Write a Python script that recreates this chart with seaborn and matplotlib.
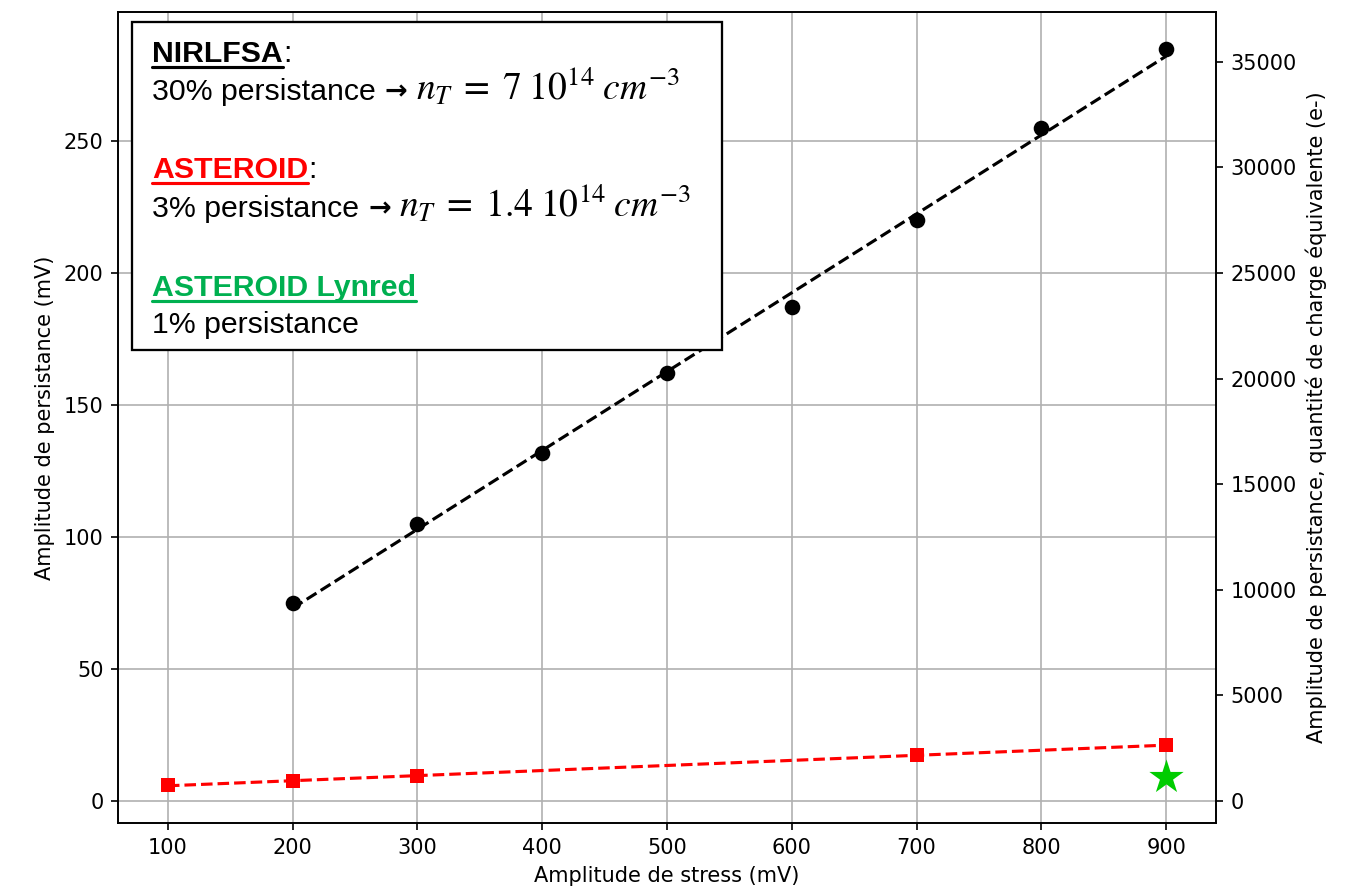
import numpy as np
import pandas as pd
import matplotlib
matplotlib.use("Agg")
import matplotlib.pyplot as plt
import seaborn as sns
from matplotlib.lines import Line2D
from matplotlib.patches import Rectangle

# Persistence amplitude (mV) versus stress amplitude (mV)
stress_nirlfsa = [200, 300, 400, 500, 600, 700, 800, 900]
persist_nirlfsa = [75, 105, 132, 162, 187, 220, 255, 285]

stress_asteroid = [100, 200, 300, 700, 900]
persist_asteroid = [6.0, 7.6, 9.5, 17.4, 21.2]

stress_lynred = [900]
persist_lynred = [9.0]

# conversion factor from mV to equivalent charge (e-)
electrons_per_mv = 125

x_ticks = [100, 200, 300, 400, 500, 600, 700, 800, 900]
y_ticks = [0, 50, 100, 150, 200, 250]
y2_ticks = [0, 5000, 10000, 15000, 20000, 25000, 30000, 35000]

sns.set_style("ticks", {
    "axes.grid": True,
    "grid.color": "#b0b0b0",
    "grid.linewidth": 0.8,
    "axes.edgecolor": "black",
    "axes.linewidth": 0.8,
    "xtick.color": "black",
    "ytick.color": "black",
    "text.color": "black",
    "axes.labelcolor": "black",
})
plt.rcParams["font.family"] = ["DejaVu Sans"]
plt.rcParams["font.size"] = 10
plt.rcParams["mathtext.fontset"] = "stix"

W, H = 1345, 896
fig = plt.figure(figsize=(W / 150, H / 150), dpi=150)
ax = fig.add_axes([118 / W, 1 - 823 / H, (1216 - 118) / W, (823 - 12) / H])

df_n = pd.DataFrame({"stress": stress_nirlfsa, "persist": persist_nirlfsa})
df_a = pd.DataFrame({"stress": stress_asteroid, "persist": persist_asteroid})
df_l = pd.DataFrame({"stress": stress_lynred, "persist": persist_lynred})

# linear fits (dashed) over each data range
sns.regplot(data=df_n, x="stress", y="persist", ax=ax, ci=None, truncate=True,
            scatter=False, color="black",
            line_kws={"linestyle": "--", "linewidth": 1.5, "zorder": 2})
sns.regplot(data=df_a, x="stress", y="persist", ax=ax, ci=None, truncate=True,
            scatter=False, color="red",
            line_kws={"linestyle": "--", "linewidth": 1.5, "zorder": 2})

sns.scatterplot(data=df_n, x="stress", y="persist", ax=ax, color="black",
                marker="o", s=56, edgecolor="black", linewidth=0, zorder=3)
sns.scatterplot(data=df_a, x="stress", y="persist", ax=ax, color="red",
                marker="s", s=50, edgecolor="red", linewidth=0, zorder=3)
sns.scatterplot(data=df_l, x="stress", y="persist", ax=ax, color="#00cc00",
                marker="*", s=300, edgecolor="#00cc00", linewidth=0, zorder=3)

ax.set_xlim(60, 940)
ax.set_ylim(-8.3, 298.9)
ax.set_xticks(x_ticks)
ax.set_yticks(y_ticks)
ax.set_xlabel("Amplitude de stress (mV)")
ax.set_ylabel("Amplitude de persistance (mV)")
ax.grid(True, color="#b0b0b0", linewidth=0.8)

ax2 = ax.twinx()
lo, hi = ax.get_ylim()
ax2.set_ylim(lo * electrons_per_mv, hi * electrons_per_mv)
ax2.set_yticks(y2_ticks)
ax2.grid(False)
ax2.set_ylabel("Amplitude de persistance, quantité de charge équivalente (e-)")
for a in (ax, ax2):
    for s in a.spines.values():
        s.set_visible(True)
        s.set_color("black")

# annotation box
box = Rectangle((132 / W, 1 - 350 / H), (722 - 132) / W, (350 - 22) / H,
                transform=fig.transFigure, facecolor="white", edgecolor="black",
                linewidth=1.1, zorder=5)
fig.patches.append(box)

txt_font = ["Liberation Sans", "DejaVu Sans"]
fs = 14.5
x0 = 152 / W

headings = [
    ("NIRLFSA", "black", ":", 62),
    ("ASTEROID", "#ff0000", ":", 178),
    ("ASTEROID Lynred", "#00b050", "", 296),
]
lines = [
    ("30% persistance", r"$n_T\;=\;7\;10^{14}\;cm^{-3}$", 100),
    ("3% persistance", r"$n_T\;=\;1.4\;10^{14}\;cm^{-3}$", 217),
    ("1% persistance", None, 333),
]

fig.canvas.draw()
renderer = fig.canvas.get_renderer()
for label, color, suffix, ybase in headings:
    t = fig.text(x0, 1 - ybase / H, label, color=color, fontsize=fs,
                 fontweight="bold", family=txt_font, va="baseline", zorder=6)
    bb = t.get_window_extent(renderer=renderer)
    uy = 1 - (ybase + 5) / H
    fig.lines.append(Line2D([bb.x0 / W, bb.x1 / W], [uy, uy], color=color,
                            linewidth=1.5, transform=fig.transFigure, zorder=6))
    if suffix:
        fig.text(bb.x1 / W, 1 - ybase / H, suffix, color="black", fontsize=fs,
                 family=txt_font, va="baseline", zorder=6)

for label, formula, ybase in lines:
    t = fig.text(x0, 1 - ybase / H, label, color="black", fontsize=fs,
                 family=txt_font, va="baseline", zorder=6)
    if formula is None:
        continue
    bb = t.get_window_extent(renderer=renderer)
    arr = fig.text((bb.x1 + 9) / W, 1 - (ybase - 1) / H, "\u2192", color="black",
                   fontsize=13, fontweight="bold", family=["DejaVu Sans"],
                   va="baseline", zorder=6)
    ab = arr.get_window_extent(renderer=renderer)
    fig.text((ab.x1 + 8) / W, 1 - ybase / H, formula, color="black",
             fontsize=18, va="baseline", zorder=6)

fig.savefig("out.png", dpi=150)
